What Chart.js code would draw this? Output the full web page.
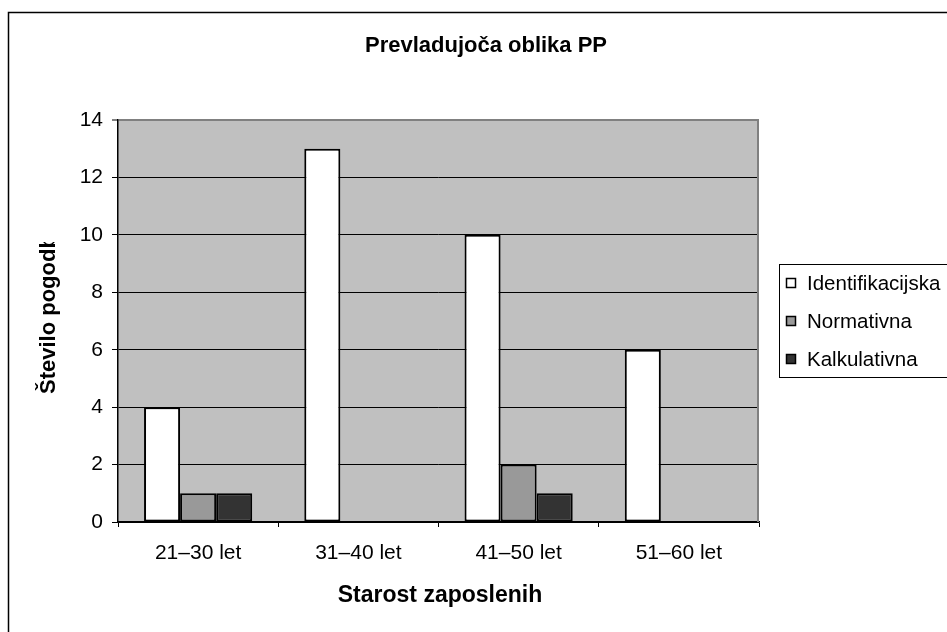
<!DOCTYPE html>
<html>
<head>
<meta charset="utf-8">
<script src="https://cdn.jsdelivr.net/npm/chart.js@4"></script>
<style>
  body { margin: 0; background: #fff; }
  canvas { display: block; }
</style>
</head>
<body>
<canvas id="chart" width="947" height="632"></canvas>
<script>
const categories = ['21–30 let', '31–40 let', '41–50 let', '51–60 let'];
const seriesNames = ['Identifikacijska', 'Normativna', 'Kalkulativna'];
const identifikacijska = [4, 13, 10, 6];
const normativna = [1, 0, 2, 0];
const kalkulativna = [1, 0, 1, 0];
const yTicks = [0, 2, 4, 6, 8, 10, 12, 14];

const FONT = 'Arial, "Liberation Sans", sans-serif';
const colors = ['#ffffff', '#999999', '#333333'];

// frame, title, axis titles and legend like the old office chart
const decor = {
  id: 'decor',
  beforeDraw(chart) {
    const { ctx, chartArea: a } = chart;
    ctx.save();
    ctx.fillStyle = '#c0c0c0';
    ctx.fillRect(a.left, a.top, a.right - a.left, a.bottom - a.top);
    ctx.restore();
  },
  beforeDatasetsDraw(chart) {
    const { ctx, chartArea: a } = chart;
    ctx.save();
    ctx.strokeStyle = '#808080';
    ctx.lineWidth = 2;
    ctx.beginPath();
    ctx.moveTo(a.right - 1, a.top);
    ctx.lineTo(a.right - 1, a.bottom);
    ctx.stroke();
    ctx.restore();
  },
  afterDraw(chart) {
    const { ctx, chartArea: a } = chart;
    ctx.save();
    // outer frame (cropped on the right and bottom)
    ctx.strokeStyle = '#000';
    ctx.lineWidth = 1.5;
    ctx.beginPath();
    ctx.moveTo(8.5, 640);
    ctx.lineTo(8.5, 12.5);
    ctx.lineTo(960, 12.5);
    ctx.stroke();

    ctx.fillStyle = '#000';
    ctx.textAlign = 'center';
    ctx.textBaseline = 'middle';
    ctx.font = 'bold 22px ' + FONT;
    ctx.fillText('Prevladujoča oblika PP', 486, 46);

    ctx.font = 'bold 23px ' + FONT;
    ctx.fillText('Starost zaposlenih', 440, 596);

    // y title, clipped at the top as in the original
    ctx.save();
    ctx.beginPath();
    ctx.rect(0, 242, 110, 200);
    ctx.clip();
    ctx.translate(55, 394);
    ctx.rotate(-Math.PI / 2);
    ctx.textAlign = 'left';
    ctx.textBaseline = 'alphabetic';
    ctx.font = 'bold 22px ' + FONT;
    ctx.fillText('Število pogodb', 0, 0);
    ctx.restore();

    // legend
    ctx.strokeStyle = '#000';
    ctx.lineWidth = 1;
    ctx.strokeRect(779.5, 264.5, 200, 113);
    const rows = [283, 321, 359];
    ctx.font = '20.5px ' + FONT;
    ctx.textAlign = 'left';
    ctx.textBaseline = 'middle';
    chart.data.datasets.forEach((ds, i) => {
      ctx.fillStyle = ds.backgroundColor;
      ctx.fillRect(786.5, rows[i] - 4.5, 9, 9);
      ctx.lineWidth = 1.5;
      ctx.strokeRect(786.5, rows[i] - 4.5, 9, 9);
      ctx.fillStyle = '#000';
      ctx.fillText(ds.label, 807, rows[i] + 1);
    });
    ctx.restore();
  }
};

const values = [identifikacijska, normativna, kalkulativna];

new Chart(document.getElementById('chart'), {
  type: 'bar',
  data: {
    labels: categories,
    datasets: seriesNames.map((name, i) => ({
      label: name,
      data: values[i],
      backgroundColor: colors[i],
      borderColor: '#000',
      borderWidth: 2,
      borderSkipped: false,
      categoryPercentage: 0.675,
      barPercentage: 1.0
    }))
  },
  options: {
    responsive: false,
    animation: false,
    layout: { padding: { left: 0, top: 120, right: 188, bottom: 0 } },
    plugins: {
      legend: { display: false },
      title: { display: false },
      tooltip: { enabled: false }
    },
    scales: {
      x: {
        afterFit(scale) { scale.height = 110; },
        grid: {
          offset: true,
          drawOnChartArea: false,
          drawTicks: true,
          tickLength: 5,
          color: '#000'
        },
        border: { color: '#000', width: 1.5 },
        ticks: { color: '#000', font: { family: FONT, size: 21 }, padding: 14 }
      },
      y: {
        min: 0,
        max: 14,
        afterFit(scale) { scale.width = 118; },
        afterBuildTicks(scale) { scale.ticks = yTicks.map(v => ({ value: v })); },
        grid: {
          color: ctx => (ctx.tick && ctx.tick.value === 14 ? '#808080' : '#000'),
          lineWidth: ctx => (ctx.tick && ctx.tick.value === 14 ? 2 : 1),
          tickLength: 6
        },
        border: { color: '#000', width: 1.5 },
        ticks: { color: '#000', font: { family: FONT, size: 21 }, padding: 9 }
      }
    }
  },
  plugins: [decor]
});
</script>
</body>
</html>
